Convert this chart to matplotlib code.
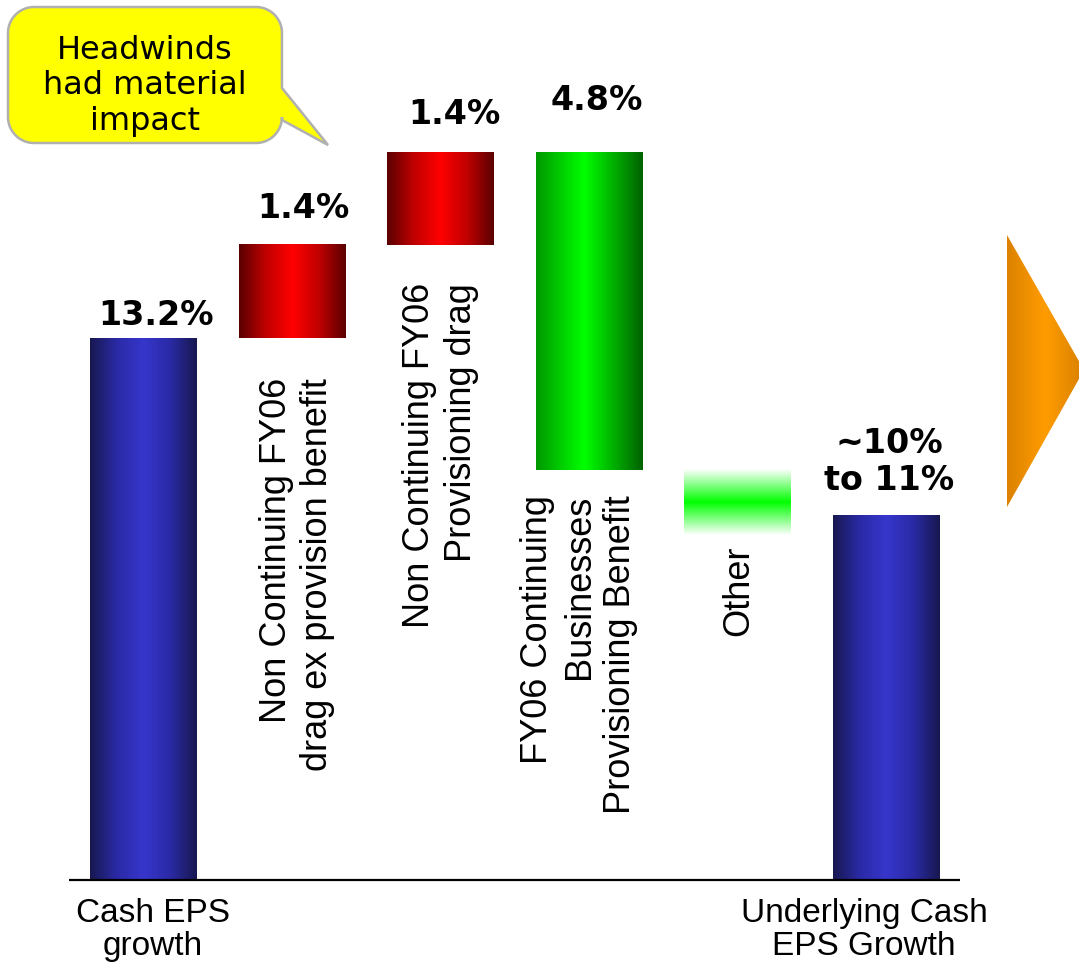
import matplotlib.pyplot as plt
import numpy as np
from matplotlib.colors import LinearSegmentedColormap
from matplotlib.patches import Polygon, PathPatch
from matplotlib.path import Path

W, H = 1079, 964

# Waterfall steps (drawn levels, in % units as plotted on the slide)
steps = ["Cash EPS growth", "NC drag ex provision", "NC provisioning drag",
         "FY06 continuing benefit", "Other", "Underlying Cash EPS Growth"]
bottoms = [0.0, 13.2, 15.47, 9.99, 8.40, 0.0]
tops = [13.2, 15.47, 17.73, 17.73, 9.99, 8.87]
kinds = ["total", "drag", "drag", "benefit", "other", "total"]
value_text = ["13.2%", "1.4%", "1.4%", "4.8%", "", "~10%\nto 11%"]
side_text = ["",
             "Non Continuing FY06\ndrag ex provision benefit",
             "Non Continuing FY06\nProvisioning drag",
             "FY06 Continuing\nBusinesses\nProvisioning Benefit",
             "Other",
             ""]
base_text = ["Cash EPS\ngrowth", "", "", "", "", "Underlying Cash\nEPS Growth"]

# label offsets in pixels (layout only)
value_off = [(12, 23), (11, 36), (14, 38), (8, 52), (0, 0), (3, 54)]
side_off = [(0, 0), (5, -40), (0, -38), (-10, -25), (1, -10), (0, 0)]
base_off = [(9, -50), (0, 0), (0, 0), (0, 0), (0, 0), (-22, -50)]

cmaps = {
    "total": LinearSegmentedColormap.from_list(
        "blue", ["#181850", "#2a2aa6", "#3636cc", "#2a2aa6", "#181850"]),
    "drag": LinearSegmentedColormap.from_list(
        "red", ["#5a0000", "#c00000", "#ff0000", "#c00000", "#5a0000"]),
    "benefit": LinearSegmentedColormap.from_list(
        "green", [(0, "#009800"), (0.45, "#00ff00"), (1, "#006200")]),
    "other": LinearSegmentedColormap.from_list(
        "other", ["#ffffff", "#00ff00", "#ffffff"]),
}

fig = plt.figure(figsize=(W / 100, H / 100), dpi=100)
ax = fig.add_axes([0, 0, 1, 1])
ax.axis("off")

# pixel layout of the slide
x0_px, pitch_px, base_px, unit_px = 143.5, 148.5, 880, 41.06
width = 0.72

grad = np.linspace(0, 1, 256)
for i, (b, t, k) in enumerate(zip(bottoms, tops, kinds)):
    img = grad[:, None] if k == "other" else grad[None, :]
    ax.imshow(img, cmap=cmaps[k], extent=(i - width / 2, i + width / 2, b, t),
              origin="lower", aspect="auto", interpolation="bicubic", zorder=2)

ax.hlines(0, -0.5, len(steps) - 0.5, color="black", lw=1.6, zorder=3)

for i in range(len(steps)):
    top = tops[i]
    if value_text[i]:
        ax.annotate(value_text[i], (i, top), xytext=value_off[i],
                    textcoords="offset pixels", ha="center", va="center",
                    fontsize=24, fontweight="bold", family="DejaVu Sans",
                    linespacing=1.15)
    if side_text[i]:
        low = min(bottoms[i], tops[i])
        ax.annotate(side_text[i], (i, low), xytext=side_off[i],
                    textcoords="offset pixels", ha="center", va="top",
                    rotation=90, multialignment="right", fontsize=26,
                    family="Liberation Sans", linespacing=1.25)
    if base_text[i]:
        ax.annotate(base_text[i], (i, 0), xytext=base_off[i],
                    textcoords="offset pixels", ha="center", va="center",
                    fontsize=24, family="Liberation Sans", linespacing=1.1)

ax.set_xlim(-x0_px / pitch_px, (W - x0_px) / pitch_px)
ax.set_ylim((base_px - H) / unit_px, base_px / unit_px)

# overlay in slide pixels for the callout and the arrow
ov = fig.add_axes([0, 0, 1, 1])
ov.axis("off")
ov.patch.set_alpha(0)


def arc(cx, cy, r, a0, a1):
    a = np.radians(np.linspace(a0, a1, 20))
    return list(zip(cx + r * np.cos(a), cy + r * np.sin(a)))


L, T, R, B, r = 8, 7, 282, 143, 26
pts = [(L + r, T)]
pts += arc(R - r, T + r, r, -90, 0)
pts += [(R, 88), (328, 145), (R, 120)]
pts += arc(R - r, B - r, r, 0, 90)
pts += arc(L + r, B - r, r, 90, 180)
pts += arc(L + r, T + r, r, 180, 270)
callout = PathPatch(Path(pts + [pts[0]], closed=True), facecolor="#ffff00",
                    edgecolor="#b0b0b0", lw=1.8, zorder=5)
ov.add_patch(callout)
ov.text((L + R) / 2, 86, "Headwinds\nhad material\nimpact",
        ha="center", va="center", fontsize=23, family="DejaVu Sans",
        linespacing=1.2, zorder=6)

tri = Polygon([(1007, 235), (1007, 507), (1084, 370)], closed=True,
              facecolor="none", edgecolor="none")
ov.add_patch(tri)
orange = LinearSegmentedColormap.from_list(
    "orange", [(0, "#dc8200"), (0.5, "#ff9c00"), (1, "#d88000")])
im = ov.imshow(grad[None, :], cmap=orange, extent=(1007, 1084, 507, 235),
               aspect="auto", interpolation="bicubic", zorder=4)
im.set_clip_path(tri)
ov.set_xlim(0, W)
ov.set_ylim(H, 0)

fig.savefig("out.png", dpi=100)
